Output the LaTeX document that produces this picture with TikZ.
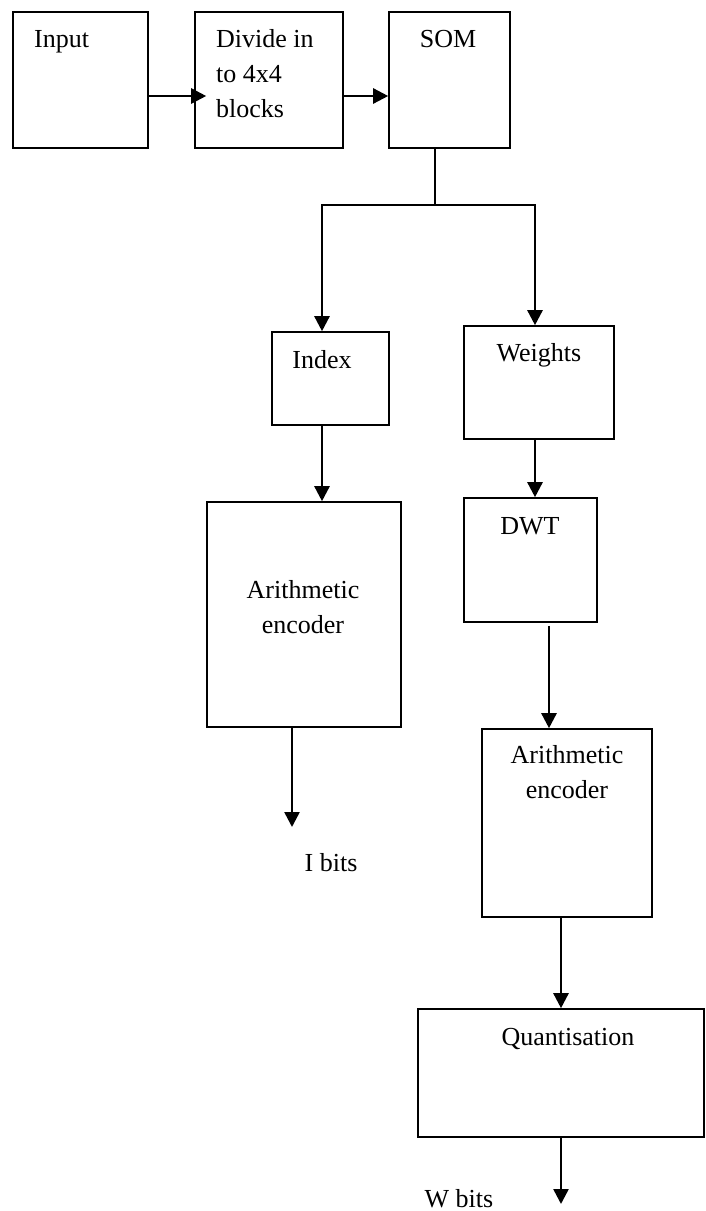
\documentclass[tikz,border=0pt]{standalone}
\usepackage{fontspec}
\setmainfont{Liberation Serif}
\usetikzlibrary{arrows.meta}
\begin{document}
\begin{tikzpicture}[x=1pt,y=-1pt,
  box/.style={draw=black, line width=1.6pt, rectangle, inner sep=0pt},
  txt/.style={inner sep=0pt, font=\fontsize{26}{35}\selectfont},
  arr/.style={line width=2.5pt, -{Triangle[length=15pt,width=15pt]}},
  plain/.style={line width=1.8pt}]
\useasboundingbox (0,0) rectangle (705,1211);
% boxes
\node[box, minimum width=135pt, minimum height=136pt] (inp) at (80.5,80) {};
\node[box, minimum width=148pt, minimum height=136pt] (div) at (269,80) {};
\node[box, minimum width=121pt, minimum height=136pt] (som) at (449.5,80) {};
\node[box, minimum width=117pt, minimum height=93pt] (idx) at (330.5,378.5) {};
\node[box, minimum width=150pt, minimum height=113pt] (wts) at (539,382.5) {};
\node[box, minimum width=194pt, minimum height=225pt] (ae1) at (304,614.5) {};
\node[box, minimum width=133pt, minimum height=124pt] (dwt) at (530.5,560) {};
\node[box, minimum width=170pt, minimum height=188pt] (ae2) at (567,823) {};
\node[box, minimum width=286pt, minimum height=128pt] (qnt) at (561,1073) {};
% texts
\node[txt, anchor=base west] (tinp) at (34,47) {Input};
\node[txt, anchor=base west] (tdiv1) at (216,47) {Divide in};
\node[txt, anchor=base west] (tdiv2) at (216,82) {to 4x4};
\node[txt, anchor=base west] (tdiv3) at (216,117) {blocks};
\node[txt, anchor=base] (tsom) at (448,47) {SOM};
\node[txt, anchor=base] (tidx) at (322,368) {Index};
\node[txt, anchor=base] (twts) at (539,361) {Weights};
\node[txt, anchor=base] (tae1a) at (303,598) {Arithmetic};
\node[txt, anchor=base] (tae1b) at (303,633) {encoder};
\node[txt, anchor=base] (tdwt) at (530,534) {DWT};
\node[txt, anchor=base] (tae2a) at (567,763) {Arithmetic};
\node[txt, anchor=base] (tae2b) at (567,798) {encoder};
\node[txt, anchor=base] (tqnt) at (568,1045) {Quantisation};
\node[txt, anchor=base] (ibits) at (331,871) {I bits};
\node[txt, anchor=base] (wbits) at (459,1207) {W bits};
% connectors
\draw[arr, shorten >=-12pt] ([yshift=-16pt]inp.east) -- ([yshift=-16pt]div.west);
\draw[arr] ([yshift=-16pt]div.east) -- ([yshift=-16pt]som.west);
\coordinate (j) at (435,205);
\draw[plain] ([xshift=-14.5pt]som.south) -- (j);
\draw[arr] (j) -| ([xshift=-8.5pt]idx.north);
\draw[arr] (j) -| ([xshift=-4pt]wts.north);
\draw[arr] ([xshift=-8.5pt]idx.south) -- ([xshift=-8.5pt]idx.south |- ae1.north);
\draw[arr] ([xshift=-4pt]wts.south) -- ([xshift=-4pt]wts.south |- dwt.north);
\draw[arr] ([xshift=18.5pt,yshift=-3pt]dwt.south) -- ([xshift=18.5pt]dwt.south |- ae2.north);
\coordinate (iend) at (292,827);
\draw[arr] (ae1.south -| iend) -- (iend);
\draw[arr] ([xshift=-6pt]ae2.south) -- ([xshift=-6pt]ae2.south |- qnt.north);
\coordinate (wend) at (561,1204);
\draw[arr] (qnt.south -| wend) -- (wend);
\end{tikzpicture}
\end{document}
